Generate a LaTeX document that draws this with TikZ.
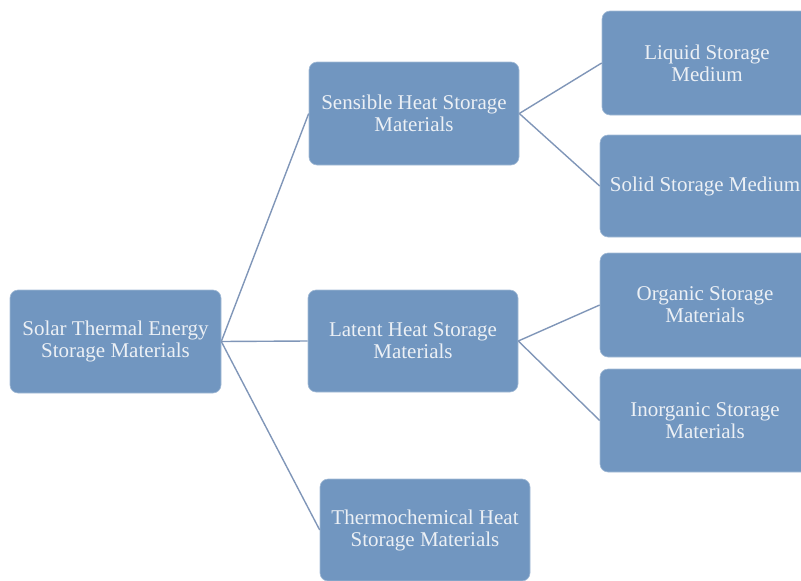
\documentclass[tikz,border=0pt]{standalone}
\usepackage{fontspec}
\setmainfont{Liberation Serif}
\newfontfamily\boxfont{Liberation Serif}
\definecolor{boxblue}{RGB}{113,150,192}
\definecolor{linkblue}{RGB}{128,150,184}
\definecolor{boxtext}{RGB}{236,240,245}
\begin{document}
\begin{tikzpicture}[x=1pt,y=-1pt,
    catbox/.style={fill=boxblue,draw=boxblue!65!white,line width=0.6pt,
      rounded corners=8pt,text=boxtext,align=center,inner sep=0pt,
      minimum width=210pt,minimum height=103pt,
      font=\boxfont\fontsize{21}{22}\selectfont},
    link/.style={draw=linkblue,line width=1.4pt}]
    \useasboundingbox (0,0) rectangle (801,581);
    \clip (0,0) rectangle (801,581);
    % root
    \node[catbox,minimum width=211pt] (solar) at (115.5,341.5)
      {Solar Thermal Energy\\Storage Materials};
    % first level
    \node[catbox] (sensible) at (414,113.5) {Sensible Heat Storage\\Materials};
    \node[catbox,minimum height=102pt] (latent) at (413,341) {Latent Heat Storage\\Materials};
    \node[catbox,minimum height=102pt] (thermo) at (425,530) {Thermochemical Heat\\Storage Materials};
    % second level
    \node[catbox,minimum height=104pt] (liquid) at (707,63) {Liquid Storage\\Medium};
    \node[catbox,minimum height=102pt] (solid) at (705,186) {Solid Storage Medium};
    \node[catbox,minimum height=104pt] (organic) at (705,305) {Organic Storage\\Materials};
    \node[catbox] (inorganic) at (705,420.5) {Inorganic Storage\\Materials};
    % links
    \draw[link] (solar.east) -- (sensible.west);
    \draw[link] (solar.east) -- (latent.west);
    \draw[link] (solar.east) -- (thermo.west);
    \draw[link] (sensible.east) -- (liquid.west);
    \draw[link] (sensible.east) -- (solid.west);
    \draw[link] (latent.east) -- (organic.west);
    \draw[link] (latent.east) -- (inorganic.west);
\end{tikzpicture}
\end{document}
